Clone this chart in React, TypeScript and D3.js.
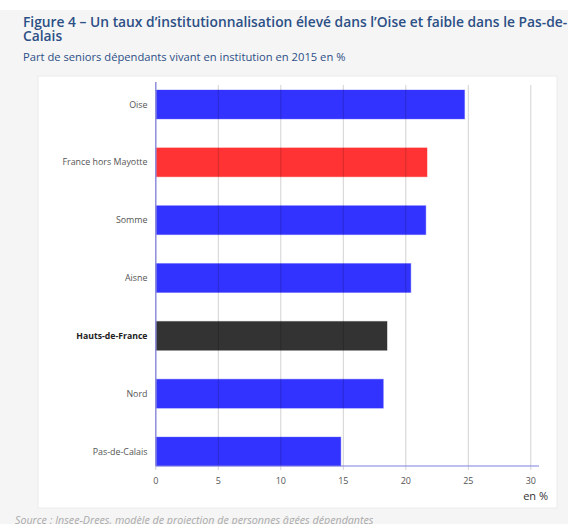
import React from "react";
import * as d3 from "d3";

const categories = ["Oise", "France hors Mayotte", "Somme", "Aisne", "Hauts-de-France", "Nord", "Pas-de-Calais"];
const values = [24.7, 21.7, 21.6, 20.4, 18.5, 18.2, 14.8];
const barColors = ["#3333ff", "#ff3333", "#3333ff", "#3333ff", "#333333", "#3333ff", "#3333ff"];
const boldCategories = ["Hauts-de-France"];
const xTicks = [0, 5, 10, 15, 20, 25, 30];

const titleLines = [
  "Figure 4 – Un taux d’institutionnalisation élevé dans l’Oise et faible dans le Pas-de-",
  "Calais",
];
const subtitle = "Part de seniors dépendants vivant en institution en 2015 en %";
const source = "Source : Insee-Drees, modèle de projection de personnes âgées dépendantes";
const unitLabel = "en %";

export default function App() {
  const W = 568, H = 524;
  const x = d3.scaleLinear().domain([0, 30]).range([155.8, 530.8]);
  const y = d3.scaleBand<string>().domain(categories).range([90, 466]).paddingInner(0.5).paddingOuter(0);
  const font = "'Open Sans', 'Noto Sans', sans-serif";
  const axisColor = "#7f7fe0";
  return (
    <svg width={W} height={H} style={{ position: "absolute", left: 0, top: 0, display: "block" }} fontFamily={font}>
      <rect x={0} y={0} width={W} height={H} fill="#ffffff" />
      <rect x={0} y={10} width={W} height={H - 10} fill="#f5f5f5" />
      <rect x={38} y={76} width={519} height={432} fill="#ffffff" stroke="#ececec" strokeWidth={1} />
      {titleLines.map((t, i) => (
        <text key={i} x={23} y={27 + i * 13.6} fontSize={13.8} fill="#2c4f86" fontWeight={600}>{t}</text>
      ))}
      <text x={23} y={61} fontSize={11.2} fill="#2c4f86">{subtitle}</text>

      {categories.map((c, i) => (
        <rect key={c} x={x(0)} y={y(c)!} width={x(values[i]) - x(0)} height={y.bandwidth()}
          fill={barColors[i]} stroke={barColors[i]} strokeOpacity={0.35} strokeWidth={1} />
      ))}
      {xTicks.filter(t => t > 0).map(t => (
        <line key={t} x1={x(t)} x2={x(t)} y1={85} y2={470} stroke="#000" strokeOpacity={0.18} strokeWidth={1} />
      ))}
      <line x1={x(0)} x2={x(0)} y1={82} y2={470} stroke="#ccc" strokeWidth={1} />
      <line x1={x(0)} x2={x(0)} y1={82} y2={466} stroke={axisColor} strokeWidth={1.2} />
      <line x1={x(0)} x2={539} y1={466} y2={466} stroke={axisColor} strokeWidth={1.2} />

      {categories.map(c => (
        <text key={c} x={147.5} y={y(c)! + y.bandwidth() / 2} dy="0.35em" textAnchor="end"
          fontSize={boldCategories.includes(c) ? 8.7 : 8.9} fill={boldCategories.includes(c) ? "#222" : "#555"}
          fontWeight={boldCategories.includes(c) ? 700 : 400}>{c}</text>
      ))}
      {xTicks.map(t => (
        <text key={t} x={x(t)} y={481} dy="0.35em" textAnchor="middle" fontSize={9} fill="#555">{t}</text>
      ))}
      <text x={548} y={500} textAnchor="end" fontSize={11} fill="#333">{unitLabel}</text>
      <text x={15} y={524} fontSize={10.7} fontStyle="italic" fill="#aaa">{source}</text>
    </svg>
  );
}
